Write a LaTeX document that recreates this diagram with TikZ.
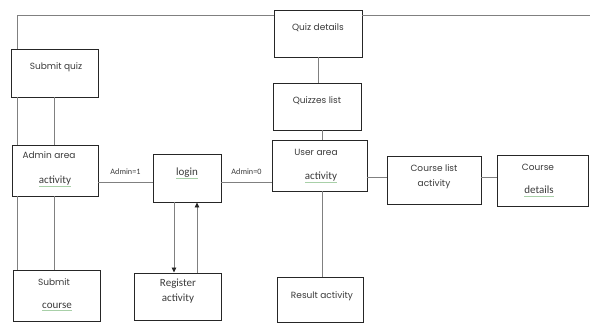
\documentclass[tikz,border=0pt]{standalone}
\usepackage{fontspec}
\setmainfont{Carlito}
\newfontfamily\geo{Poppins}
\usepackage{xcolor}
\usetikzlibrary{arrows.meta,positioning,fit}
\definecolor{splgreen}{HTML}{A8D0A8}
\definecolor{boxc}{HTML}{262626}
\definecolor{linec}{HTML}{808080}
\definecolor{txtc}{HTML}{3A3A3A}
\newlength\splw
\newcommand\splchk[1]{\settowidth\splw{#1}\rlap{\textcolor{splgreen}{\rule[-2.6pt]{\splw}{0.6pt}}}#1}

\begin{document}
\begin{tikzpicture}[x=1pt,y=-1pt,
  box/.style={draw=boxc, line width=0.95pt, rectangle, inner sep=0pt},
  conn/.style={draw=linec, line width=0.8pt},
  tip/.style={-{Triangle[length=5pt,width=4.5pt,color=boxc]}},
  geotxt/.style={text=txtc, font=\geo\fontsize{9}{10}\selectfont, inner sep=0pt},
  caltxt/.style={text=txtc, font=\fontsize{11}{12}\selectfont, inner sep=0pt},
  lbl/.style={text=txtc, font=\fontsize{8.2}{9}\selectfont, inner sep=0pt}]
\useasboundingbox (0,0) rectangle (590,322);

% boxes
\node[box, fit={(274,10)(362,57)}] (qd) {};
\node[box, fit={(273,83)(361,130)}] (ql) {};
\node[box, fit={(272,140)(367,191)}] (ua) {};
\node[box, fit={(11,49)(98,97)}] (sq) {};
\node[box, fit={(12,145)(98,196)}] (aa) {};
\node[box, fit={(13,270)(100,321)}] (sc) {};
\node[box, fit={(153,154)(221,202)}] (li) {};
\node[box, fit={(134,273)(221,320)}] (ra) {};
\node[box, fit={(387,156)(481,204)}] (cl) {};
\node[box, fit={(497,155)(588,206)}] (cd) {};
\node[box, fit={(277,277)(363,322)}] (rs) {};

% texts
\node[geotxt] (qdT) at (318,28) {Quiz details};
\node[geotxt] (qlT) at (317,101) {Quizzes list};
\node[geotxt] (uaT) at (316,152) {User area};
\node[caltxt] (uaT2) at (321,177) {\splchk{activity}};
\node[geotxt] (sqT) at (56,67) {Submit quiz};
\node[geotxt] (aaT) at (49,155) {Admin area};
\node[caltxt] (aaT2) at (55,181) {\splchk{activity}};
\node[geotxt] (scT) at (54,282) {Submit};
\node[caltxt] (scT2) at (57,307) {\splchk{course}};
\node[caltxt] (liT) at (187,173) {\splchk{login}};
\node[caltxt] (raT) at (178,284) {Register};
\node[caltxt] (raT2) at (178,299) {activity};
\node[geotxt] (clT) at (434,168) {Course list};
\node[geotxt] (clT2) at (434,184) {activity};
\node[geotxt] (cdT) at (538,167) {Course};
\node[caltxt] (cdT2) at (539,191) {\splchk{details}};
\node[geotxt] (rsT) at (322,296) {Result activity};

% connectors
\coordinate (tl) at (17,15);
\coordinate (tr) at (590,15);
\coordinate (l2) at (54,0);
\coordinate (mx) at (322,0);
\coordinate (my) at (0,182);
\coordinate (ry) at (0,177);
\coordinate (ax) at (174,0);
\coordinate (bx) at (197,0);
\draw[conn] (sq.north -| tl) -- (tl) -- (qd.west |- tl);
\draw[conn] (qd.east |- tl) -- (tr);
\draw[conn] (sq.south -| tl) -- (aa.north -| tl);
\draw[conn] (sq.south -| l2) -- (aa.north -| l2);
\draw[conn] (aa.south -| tl) -- (sc.north -| tl);
\draw[conn] (aa.south -| l2) -- (sc.north -| l2);
\draw[conn] (qd.south) -- (ql.north -| qd.south);
\draw[conn] (ql.south -| mx) -- (ua.north -| mx);
\draw[conn] (ua.south -| mx) -- (rs.north -| mx);
\draw[conn] (aa.east |- my) -- (li.west |- my) node[lbl, midway, above=7pt] (adm1) {Admin=1};
\draw[conn] (li.east |- my) -- (ua.west |- my) node[lbl, midway, above=7pt] (adm0) {Admin=0};
\draw[conn] (ua.east |- ry) -- (cl.west |- ry);
\draw[conn] (cl.east |- ry) -- (cd.west |- ry);
\draw[conn, tip] (li.south -| ax) -- (ra.north -| ax);
\draw[conn, tip] (ra.north -| bx) -- (li.south -| bx);
\end{tikzpicture}
\end{document}
